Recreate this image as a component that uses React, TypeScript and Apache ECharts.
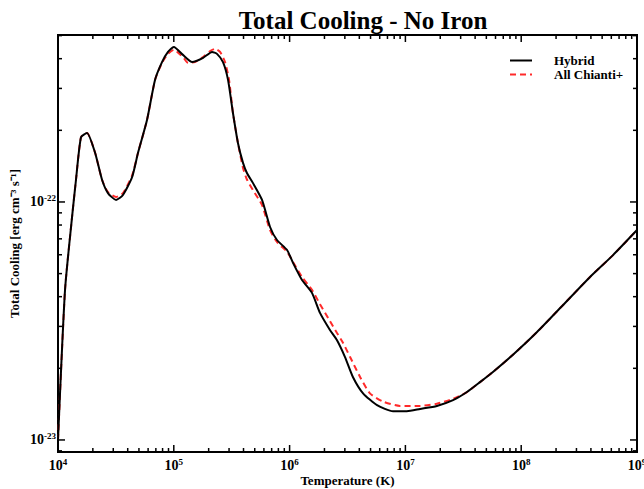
import React, { useEffect, useRef } from 'react';
import * as echarts from 'echarts';

const FONT = '"Liberation Serif", "Times New Roman", serif';

// Temperature (K) and total cooling (erg cm^3 s^-1)
const hybridT = [1.00e4, 1.15e4, 1.32e4, 1.43e4, 1.58e4, 1.78e4, 2.09e4, 2.40e4, 2.70e4, 3.17e4, 3.64e4, 4.36e4, 4.91e4, 5.87e4, 6.89e4, 7.91e4, 8.91e4, 1.00e5, 1.20e5, 1.44e5, 1.79e5, 2.14e5, 2.36e5, 2.66e5, 2.94e5, 3.24e5, 3.58e5, 3.96e5, 4.29e5, 4.83e5, 5.78e5, 6.78e5, 7.78e5, 9.51e5, 1.07e6, 1.28e6, 1.56e6, 1.83e6, 2.23e6, 2.56e6, 3.01e6, 3.52e6, 4.31e6, 5.69e6, 7.82e6, 1.03e7, 1.34e7, 1.87e7, 2.58e7, 3.40e7, 4.41e7, 5.70e7, 8.49e7, 1.37e8, 2.30e8, 3.93e8, 6.21e8, 1.00e9];
const hybridL = [1.00e-23, 4.27e-23, 8.57e-23, 1.24e-22, 1.87e-22, 1.95e-22, 1.61e-22, 1.24e-22, 1.09e-22, 1.02e-22, 1.07e-22, 1.27e-22, 1.61e-22, 2.21e-22, 3.26e-22, 3.87e-22, 4.27e-22, 4.48e-22, 4.15e-22, 3.87e-22, 4.03e-22, 4.27e-22, 4.19e-22, 3.87e-22, 3.26e-22, 2.37e-22, 1.77e-22, 1.46e-22, 1.32e-22, 1.20e-22, 1.02e-22, 7.85e-23, 6.92e-23, 6.28e-23, 5.55e-23, 4.70e-23, 4.15e-23, 3.42e-23, 2.90e-23, 2.63e-23, 2.23e-23, 1.84e-23, 1.57e-23, 1.40e-23, 1.32e-23, 1.32e-23, 1.35e-23, 1.39e-23, 1.47e-23, 1.59e-23, 1.75e-23, 1.93e-23, 2.28e-23, 2.84e-23, 3.69e-23, 4.84e-23, 5.98e-23, 7.62e-23];

const chiantiT = [1.00e4, 1.15e4, 1.32e4, 1.43e4, 1.58e4, 1.78e4, 2.09e4, 2.40e4, 2.70e4, 3.17e4, 3.64e4, 4.36e4, 4.91e4, 5.87e4, 6.89e4, 7.91e4, 8.91e4, 1.00e5, 1.20e5, 1.33e5, 1.52e5, 1.79e5, 2.06e5, 2.27e5, 2.51e5, 2.77e5, 3.00e5, 3.24e5, 3.58e5, 3.96e5, 4.29e5, 4.83e5, 5.78e5, 6.78e5, 7.78e5, 9.51e5, 1.07e6, 1.28e6, 1.56e6, 1.83e6, 2.23e6, 2.56e6, 2.89e6, 3.33e6, 4.06e6, 4.94e6, 6.41e6, 8.97e6, 1.34e7, 1.87e7, 2.58e7, 3.40e7, 4.41e7, 5.70e7, 8.49e7, 1.37e8, 2.30e8, 3.93e8, 6.21e8, 1.00e9];
const chiantiL = [1.00e-23, 4.27e-23, 8.57e-23, 1.24e-22, 1.87e-22, 1.95e-22, 1.61e-22, 1.24e-22, 1.10e-22, 1.05e-22, 1.09e-22, 1.29e-22, 1.61e-22, 2.21e-22, 3.26e-22, 3.84e-22, 4.19e-22, 4.36e-22, 4.06e-22, 3.84e-22, 3.87e-22, 4.06e-22, 4.31e-22, 4.40e-22, 4.27e-22, 3.87e-22, 3.26e-22, 2.37e-22, 1.77e-22, 1.39e-22, 1.24e-22, 1.12e-22, 9.70e-23, 7.62e-23, 6.79e-23, 6.17e-23, 5.60e-23, 4.84e-23, 4.27e-23, 3.72e-23, 3.16e-23, 2.82e-23, 2.56e-23, 2.23e-23, 1.84e-23, 1.57e-23, 1.45e-23, 1.39e-23, 1.39e-23, 1.42e-23, 1.49e-23, 1.59e-23, 1.75e-23, 1.93e-23, 2.28e-23, 2.84e-23, 3.69e-23, 4.84e-23, 5.98e-23, 7.62e-23];

const seriesNames = ['Hybrid', 'All Chianti+'];
const X_MIN = 1e4;
const X_MAX = 1e9;
const Y_MIN = 8.9e-24;
const Y_MAX = 5.03e-22;
const xDecades = [4, 5, 6, 7, 8, 9];
const yDecades = [-24, -23, -22];
const mantissas = [1, 2, 3, 4, 5, 6, 7, 8, 9];

// ECharts' log scale rounds values to 20 decimals, so the y values are passed in units of 1e-24
const Y_UNIT_EXP = -24;
const Y_UNIT = Math.pow(10, Y_UNIT_EXP);
const toY = (v: number) => v / Y_UNIT;

function isPow10(v: number) {
  const lg = Math.log10(v);
  return Math.abs(lg - Math.round(lg)) < 1e-6;
}

const xLabel = (v: number) => {
  if (!isPow10(v)) return '';
  return `{b|10}{s|${Math.round(Math.log10(v))}}`;
};
const yLabel = (v: number) => {
  if (!isPow10(v)) return '';
  return `{b|10}{s|${Math.round(Math.log10(v)) + Y_UNIT_EXP}}`;
};

const labelRich = {
  b: { fontFamily: FONT, fontWeight: 'bold', fontSize: 14, color: '#000', lineHeight: 16 },
  s: { fontFamily: FONT, fontWeight: 'bold', fontSize: 9, color: '#000', lineHeight: 16, verticalAlign: 'top', padding: [0, 0, 6, 0] },
};

export default function App() {
  const ref = useRef<HTMLDivElement>(null);
  useEffect(() => {
    document.body.style.margin = '0';
    const chart = echarts.init(ref.current!, null, { renderer: 'svg' });

    const yMin = toY(Y_MIN);
    const yMax = toY(Y_MAX);

    const xTicks: number[][] = [];
    xDecades.forEach((d) => mantissas.forEach((m) => {
      const v = m * Math.pow(10, d);
      if (v >= X_MIN * 0.9999 && v <= X_MAX * 1.0001) xTicks.push([v, yMin]);
    }));
    const yTicks: number[][] = [];
    yDecades.forEach((d) => mantissas.forEach((m) => {
      const v = m * Math.pow(10, d - Y_UNIT_EXP);
      if (v >= yMin && v <= yMax) yTicks.push([X_MIN, v]);
    }));

    const tickStyle = { stroke: '#000', lineWidth: 1.5 };
    const renderTick = (isX: boolean) => (params: any, api: any) => {
      const cs = params.coordSys;
      const v = api.value(isX ? 0 : 1);
      const len = isPow10(v) ? 7 : 4;
      if (isX) {
        const px = api.coord([v, yMin])[0];
        return {
          type: 'group',
          children: [
            { type: 'line', shape: { x1: px, y1: cs.y + cs.height, x2: px, y2: cs.y + cs.height - len }, style: tickStyle },
            { type: 'line', shape: { x1: px, y1: cs.y, x2: px, y2: cs.y + len }, style: tickStyle },
          ],
        };
      }
      const py = api.coord([X_MIN, v])[1];
      return {
        type: 'group',
        children: [
          { type: 'line', shape: { x1: cs.x, y1: py, x2: cs.x + len, y2: py }, style: tickStyle },
          { type: 'line', shape: { x1: cs.x + cs.width, y1: py, x2: cs.x + cs.width - len, y2: py }, style: tickStyle },
        ],
      };
    };

    const option: any = {
      animation: false,
      backgroundColor: '#fff',
      graphic: [
        {
          type: 'text',
          x: 363,
          y: 20,
          style: {
            text: 'Total Cooling - No Iron',
            fontFamily: FONT,
            fontWeight: 'bold',
            fontSize: 25,
            fill: '#000',
            textAlign: 'center',
            textVerticalAlign: 'middle',
          },
        },
      ],
      legend: {
        data: seriesNames,
        orient: 'vertical',
        left: 504,
        top: 49,
        itemWidth: 22,
        itemHeight: 10,
        itemGap: 1,
        itemStyle: { opacity: 0 },
        textStyle: { fontFamily: FONT, fontWeight: 'bold', fontSize: 13, color: '#000', padding: [0, 0, 0, 17] },
      },
      grid: {
        left: 58,
        right: 7,
        top: 35,
        bottom: 37,
        show: true,
        borderColor: '#000',
        borderWidth: 2,
        backgroundColor: 'transparent',
        outerBoundsMode: 'none',
        containLabel: false,
      },
      xAxis: {
        type: 'log',
        logBase: 10,
        min: X_MIN,
        max: X_MAX,
        name: 'Temperature (K)',
        nameLocation: 'middle',
        nameGap: 22,
        nameMoveOverlap: false,
        nameTextStyle: { fontFamily: FONT, fontWeight: 'bold', fontSize: 13, color: '#000' },
        axisLine: { show: false },
        axisTick: { show: false },
        splitLine: { show: false },
        axisLabel: {
          formatter: xLabel,
          rich: labelRich,
          margin: 5,
          showMinLabel: true,
          showMaxLabel: true,
          hideOverlap: false,
        },
      },
      yAxis: {
        type: 'log',
        logBase: 10,
        min: yMin,
        max: yMax,
        name: 'Total Cooling [erg cm⁻³ s⁻¹]',
        nameLocation: 'middle',
        nameGap: 37,
        nameMoveOverlap: false,
        nameRotate: 90,
        nameTextStyle: { fontFamily: FONT, fontWeight: 'bold', fontSize: 13, color: '#000' },
        axisLine: { show: false },
        axisTick: { show: false },
        splitLine: { show: false },
        axisLabel: {
          formatter: yLabel,
          rich: labelRich,
          margin: 2,
          showMinLabel: true,
          showMaxLabel: true,
        },
      },
      series: [
        {
          name: 'All Chianti+',
          type: 'line',
          data: chiantiT.map((t, i) => [t, toY(chiantiL[i])]),
          symbol: 'none',
          showSymbol: false,
          smooth: 0.2,
          z: 2,
          lineStyle: { color: '#ff2a2a', width: 2, type: [6, 4] },
          itemStyle: { color: '#ff2a2a' },
        },
        {
          name: 'Hybrid',
          type: 'line',
          data: hybridT.map((t, i) => [t, toY(hybridL[i])]),
          symbol: 'none',
          showSymbol: false,
          smooth: 0.2,
          z: 3,
          lineStyle: { color: '#000', width: 2, type: 'solid' },
          itemStyle: { color: '#000' },
        },
        {
          type: 'custom',
          silent: true,
          z: 5,
          renderItem: renderTick(true),
          data: xTicks,
        },
        {
          type: 'custom',
          silent: true,
          z: 5,
          renderItem: renderTick(false),
          data: yTicks,
        },
      ],
    };
    chart.setOption(option);
    return () => chart.dispose();
  }, []);
  return <div ref={ref} style={{ width: 644, height: 489 }} />;
}
